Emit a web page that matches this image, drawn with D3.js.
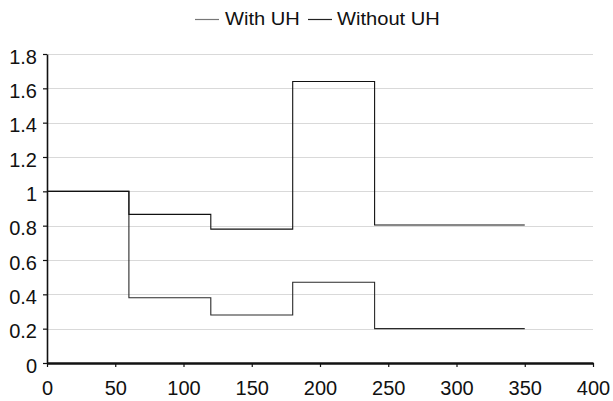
<!DOCTYPE html>
<html>
<head>
<meta charset="utf-8">
<script src="https://cdn.jsdelivr.net/npm/d3@7"></script>
<style>
  body { margin: 0; background: #fff; }
  svg { display: block; font-family: "Liberation Sans", Arial, sans-serif; }
  .grid-line { stroke: #d9d9d9; stroke-width: 1; }
</style>
</head>
<body>
<svg id="chart"></svg>
<script>
// step boundaries (x) and the level held from each boundary to the next
let breaks = [0, 60, 120, 180, 240, 350];
let withUH = [1, 0.38, 0.28, 0.47, 0.2, 0.2];
let withoutUH = [1, 0.866, 0.78, 1.64, 0.804, 0.804];
let xTicks = [0, 50, 100, 150, 200, 250, 300, 350, 400];
let yTicks = [0, 0.2, 0.4, 0.6, 0.8, 1, 1.2, 1.4, 1.6, 1.8];
let seriesNames = ["With UH", "Without UH"];

let width = 613;
let height = 401;
let marginLeft = 47;
let marginTop = 54;
let plotW = 546;
let plotH = 309;

let svg = d3.select("#chart")
    .attr("width", width)
    .attr("height", height);

let scaleX = d3.scaleLinear().domain([0, 400]).range([0, plotW]);
let scaleY = d3.scaleLinear().domain([0, 1.8]).range([plotH, 0]);

let g = svg.append("g")
    .attr("transform", `translate(${marginLeft}, ${marginTop})`);

// horizontal grid
g.selectAll(".grid-line")
    .data(yTicks.filter(d => d > 0))
    .enter()
    .append("line")
    .classed("grid-line", true)
    .attr("x1", 0)
    .attr("x2", plotW)
    .attr("y1", d => Math.round(scaleY(d)) + 0.5)
    .attr("y2", d => Math.round(scaleY(d)) + 0.5);

// step lines
let line = d3.line()
    .x((d, i) => scaleX(breaks[i]))
    .y(d => scaleY(d))
    .curve(d3.curveStepAfter);

let series = [
    { name: seriesNames[0], values: withUH, color: "#2a2a2a" },
    { name: seriesNames[1], values: withoutUH, color: "#111" }
];

g.selectAll(".series")
    .data(series)
    .enter()
    .append("path")
    .attr("d", d => line(d.values))
    .attr("fill", "none")
    .attr("stroke", d => d.color)
    .attr("stroke-width", 1.1);

// axes
let axisX = d3.axisBottom(scaleX).tickValues(xTicks).tickSize(4).tickSizeOuter(0).tickFormat(d3.format("d"));
let axisY = d3.axisLeft(scaleY).tickValues(yTicks).tickSize(4).tickSizeOuter(0).tickFormat(d => d);

let gx = g.append("g")
    .attr("transform", `translate(0, ${plotH})`)
    .call(axisX);
gx.select(".domain").attr("stroke", "#111").attr("stroke-width", 2.4);
gx.selectAll(".tick line").attr("stroke", "#111").attr("stroke-width", 1.2);
gx.selectAll("text")
    .attr("fill", "#111")
    .attr("y", 32)
    .attr("dy", 0)
    .style("font-size", "20px");

let gy = g.append("g").call(axisY);
gy.select(".domain").attr("stroke", "#111").attr("stroke-width", 1.6);
gy.selectAll(".tick line").attr("stroke", "#111").attr("stroke-width", 1.2);
gy.selectAll("text")
    .attr("fill", "#111")
    .attr("x", -10)
    .attr("dy", "0.45em")
    .style("font-size", "20px");

// legend
let legendItems = [
    { name: seriesNames[0], color: "#777", x: 195, tx: 225 },
    { name: seriesNames[1], color: "#222", x: 308, tx: 337 }
];
let legend = svg.append("g");
legend.selectAll("line")
    .data(legendItems)
    .enter()
    .append("line")
    .attr("x1", d => d.x)
    .attr("x2", d => d.x + 24)
    .attr("y1", 19.5)
    .attr("y2", 19.5)
    .attr("stroke", d => d.color)
    .attr("stroke-width", 1.2);
legend.selectAll("text")
    .data(legendItems)
    .enter()
    .append("text")
    .attr("x", 0)
    .attr("y", 0)
    .attr("transform", d => `translate(${d.tx}, 25) scale(1.15, 1)`)
    .attr("fill", "#111")
    .style("font-size", "17.5px")
    .text(d => d.name);
</script>
</body>
</html>
